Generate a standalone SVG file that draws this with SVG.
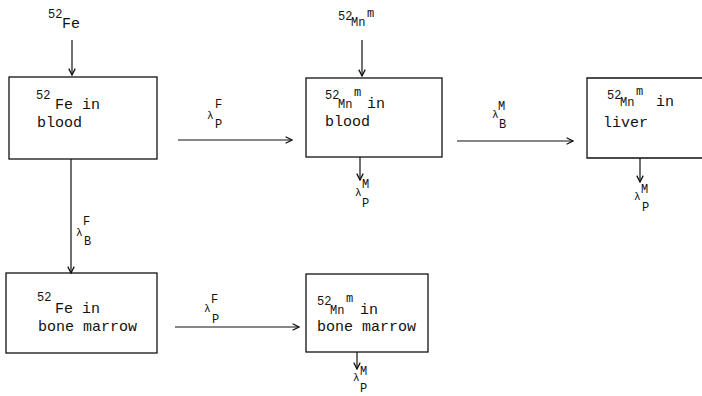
<svg xmlns="http://www.w3.org/2000/svg" width="702" height="396" viewBox="0 0 702 396">
<defs>
<marker id="ah" viewBox="0 0 10 10" refX="9" refY="5" markerWidth="8" markerHeight="8" markerUnits="userSpaceOnUse" orient="auto">
<path d="M1,1 L9,5 L1,9" fill="none" stroke="#111" stroke-width="1.6"/>
</marker>
</defs>
<style>
text{font-family:"Liberation Mono","DejaVu Sans Mono",monospace;fill:#111}
.t{font-size:15px}
.s{font-size:12px}
.l{font-size:11px}
.box{fill:none;stroke:#111;stroke-width:1.3}
.c{stroke:#111;stroke-width:1.2;fill:none;marker-end:url(#ah)}
</style>
<rect width="702" height="396" fill="#fff"/>
<g id="src-fe"><text class="s" x="48" y="18">52</text><text class="t" x="62" y="28">Fe</text></g>
<g id="src-mn"><text class="s" x="338" y="20">52</text><text class="s" x="351" y="26">Mn</text><text class="s" x="367" y="17">m</text></g>
<g id="fe-blood"><rect class="box" x="9" y="77" width="148" height="82"/><text class="s" x="36" y="99">52</text><text class="t" x="55" y="109">Fe in</text><text class="t" x="37" y="127">blood</text></g>
<g id="mn-blood"><rect class="box" x="306" y="78" width="136" height="79"/><text class="s" x="325" y="99">52</text><text class="s" x="338" y="108">Mn</text><text class="s" x="354" y="96">m</text><text class="t" x="367" y="108">in</text><text class="t" x="325" y="126">blood</text></g>
<g id="mn-liver"><path class="box" d="M710,78 H587 V158 H710"/><text class="s" x="607" y="99">52</text><text class="s" x="620" y="106">Mn</text><text class="s" x="636" y="95">m</text><text class="t" x="656" y="106">in</text><text class="t" x="603" y="127">liver</text></g>
<g id="fe-marrow"><rect class="box" x="6" y="273" width="151" height="80"/><text class="s" x="37" y="301">52</text><text class="t" x="55" y="313">Fe in</text><text class="t" x="38" y="331">bone marrow</text></g>
<g id="mn-marrow"><rect class="box" x="306" y="274" width="122" height="78"/><text class="s" x="317" y="305">52</text><text class="s" x="330" y="314">Mn</text><text class="s" x="346" y="302">m</text><text class="t" x="360" y="314">in</text><text class="t" x="317" y="331">bone marrow</text></g>
<g id="connectors">
<line class="c" x1="72" y1="40" x2="72" y2="75"/>
<line class="c" x1="362" y1="40" x2="362" y2="76"/>
<line class="c" x1="178" y1="140" x2="292" y2="140"/>
<line class="c" x1="457" y1="141" x2="573" y2="141"/>
<line class="c" x1="71" y1="159" x2="71" y2="273"/>
<line class="c" x1="175" y1="327" x2="299" y2="327"/>
<line class="c" x1="360" y1="157" x2="360" y2="180"/>
<line class="c" x1="640" y1="158" x2="640" y2="182"/>
<line class="c" x1="357" y1="352" x2="357" y2="369"/>
</g>
<g id="labels">
<text class="l" x="207" y="119">λ</text><text class="s" x="215" y="108">F</text><text class="s" x="215" y="128">P</text>
<text class="l" x="492" y="118">λ</text><text class="s" x="498" y="110">M</text><text class="s" x="499" y="128">B</text>
<text class="l" x="76" y="236">λ</text><text class="s" x="83" y="225">F</text><text class="s" x="84" y="245">B</text>
<text class="l" x="204" y="312">λ</text><text class="s" x="211" y="303">F</text><text class="s" x="212" y="323">P</text>
<text class="l" x="355" y="196">λ</text><text class="s" x="362" y="188">M</text><text class="s" x="362" y="207">P</text>
<text class="l" x="634" y="200">λ</text><text class="s" x="641" y="193">M</text><text class="s" x="642" y="211">P</text>
<text class="l" x="353" y="381">λ</text><text class="s" x="360" y="375">M</text><text class="s" x="360" y="392">P</text>
</g>
</svg>
